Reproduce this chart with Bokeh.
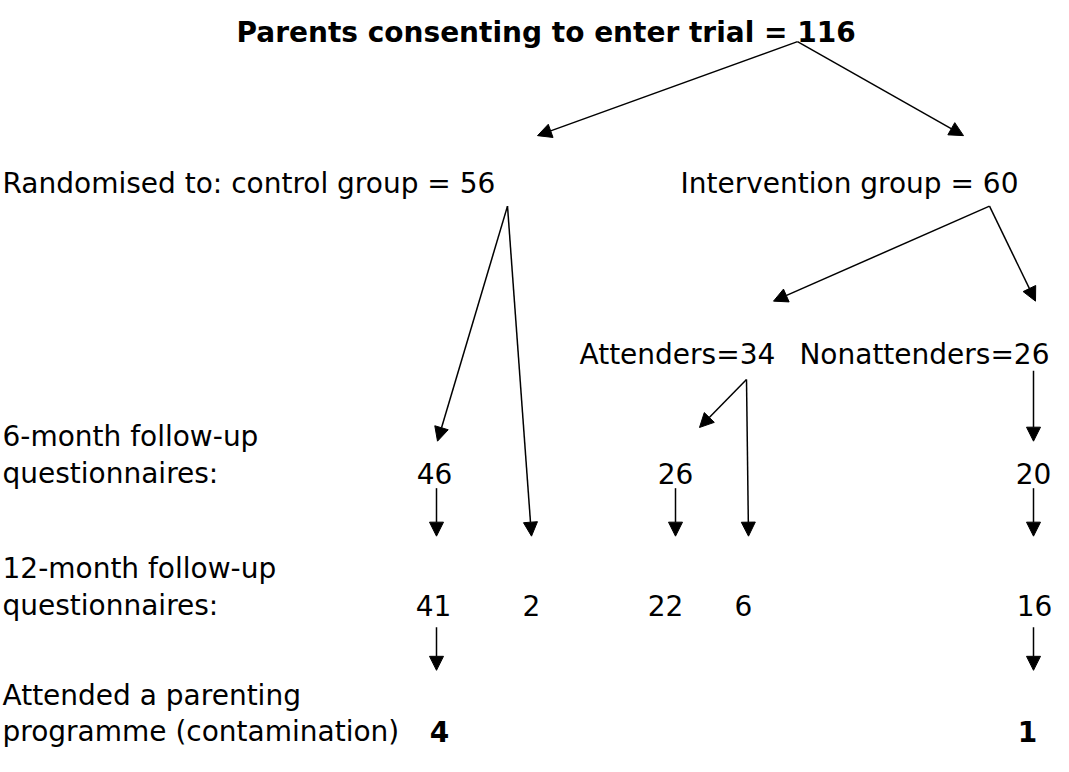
from bokeh.plotting import figure
from bokeh.models import ColumnDataSource, Range1d, Arrow, NormalHead
from bokeh.core.properties import value
from bokeh.embed import file_html
from bokeh.resources import INLINE

# ---------------- data ----------------
title_label = "Parents consenting to enter trial"
total_n = 116
group_labels = ["Randomised to: control group", "Intervention group"]
group_n = [56, 60]
attend_labels = ["Attenders", "Nonattenders"]
attend_n = [34, 26]
row_labels_6m = ["6-month follow-up", "questionnaires:"]
row_labels_12m = ["12-month follow-up", "questionnaires:"]
row_labels_cont = ["Attended a parenting", "programme (contamination)"]
six_month_n = [46, 26, 20]            # control, attenders, nonattenders
twelve_month_n = [41, 2, 22, 6, 16]   # control(6m), control(direct), att(6m), att(direct), nonatt
contamination_n = [4, 1]              # control, intervention

# ---------------- layout (reference pixel coords) ----------------
FONT = value("DejaVu Sans")
FS = "28px"
W, H = 1053, 756

p = figure(width=W, height=H, output_backend="svg", toolbar_location=None,
           x_range=Range1d(8, 8 + W), y_range=Range1d(772, 0),
           min_border=0)
p.axis.visible = False
p.grid.visible = False
p.outline_line_color = None
p.background_fill_color = "white"
p.border_fill_color = "white"

# node anchor points
apex_title = (805, 42)
ctrl_out = (515, 210)
int_out = (997, 210)
att_out = (754, 387)
non_out = (1041, 378)
tip_ctrl = (545, 138)
tip_int = (971, 138)
tip_att = (781, 307)
tip_non = (1043, 307)
tip_46 = (445, 450)
tip_26 = (707, 436)
tip_20 = (1041, 450)
col_x = {"c6": 444, "c2": 539, "a6": 683, "a2": 756, "n": 1041}
y_6m_out, y_12m_in = 498, 547
y_12m_out, y_cont_in = 640, 684

edges = [
    (apex_title, tip_ctrl), (apex_title, tip_int),
    (ctrl_out, tip_46), (ctrl_out, (col_x["c2"], y_12m_in)),
    (int_out, tip_att), (int_out, tip_non),
    (att_out, tip_26), (att_out, (col_x["a2"], y_12m_in)),
    (non_out, tip_20),
    ((col_x["c6"], y_6m_out), (col_x["c6"], y_12m_in)),
    ((col_x["a6"], y_6m_out), (col_x["a6"], y_12m_in)),
    ((col_x["n"], y_6m_out), (col_x["n"], y_12m_in)),
    ((col_x["c6"], y_12m_out), (col_x["c6"], y_cont_in)),
    ((col_x["n"], y_12m_out), (col_x["n"], y_cont_in)),
]
esrc = ColumnDataSource(dict(
    x0=[e[0][0] for e in edges], y0=[e[0][1] for e in edges],
    x1=[e[1][0] for e in edges], y1=[e[1][1] for e in edges]))
p.add_layout(Arrow(source=esrc, x_start="x0", y_start="y0", x_end="x1", y_end="y1",
                   line_color="black", line_width=1.5,
                   end=NormalHead(size=14, fill_color="black", line_color="black", line_width=1)))

# ---------------- texts ----------------
def texts(xs, ys, labels, align="left", bold=False):
    src = ColumnDataSource(dict(x=xs, y=ys, t=labels))
    p.text("x", "y", text="t", source=src, text_font=FONT, text_font_size=FS,
           text_color="black", text_align=align, text_baseline="alphabetic",
           text_font_style="bold" if bold else "normal")

texts([244], [33], [f"{title_label} = {total_n}"], bold=True)
texts([10], [187], [f"{group_labels[0]} = {group_n[0]}"])
texts([1026], [187], [f"{group_labels[1]} = {group_n[1]}"], align="right")
texts([587], [361], [f"{attend_labels[0]}={attend_n[0]}"])
texts([1057], [361], [f"{attend_labels[1]}={attend_n[1]}"], align="right")
texts([10, 10], [445, 483], row_labels_6m)
texts([10, 10], [580, 618], row_labels_12m)
texts([10, 10], [710, 746], row_labels_cont)
texts([442, 683, 1041], [483] * 3, [str(v) for v in six_month_n], align="center")
texts([441, 539, 673, 751, 1042], [618] * 5, [str(v) for v in twelve_month_n], align="center")
texts([447, 1035], [746, 746], [str(v) for v in contamination_n], align="center", bold=True)

open("out.html", "w").write(file_html(p, INLINE))
